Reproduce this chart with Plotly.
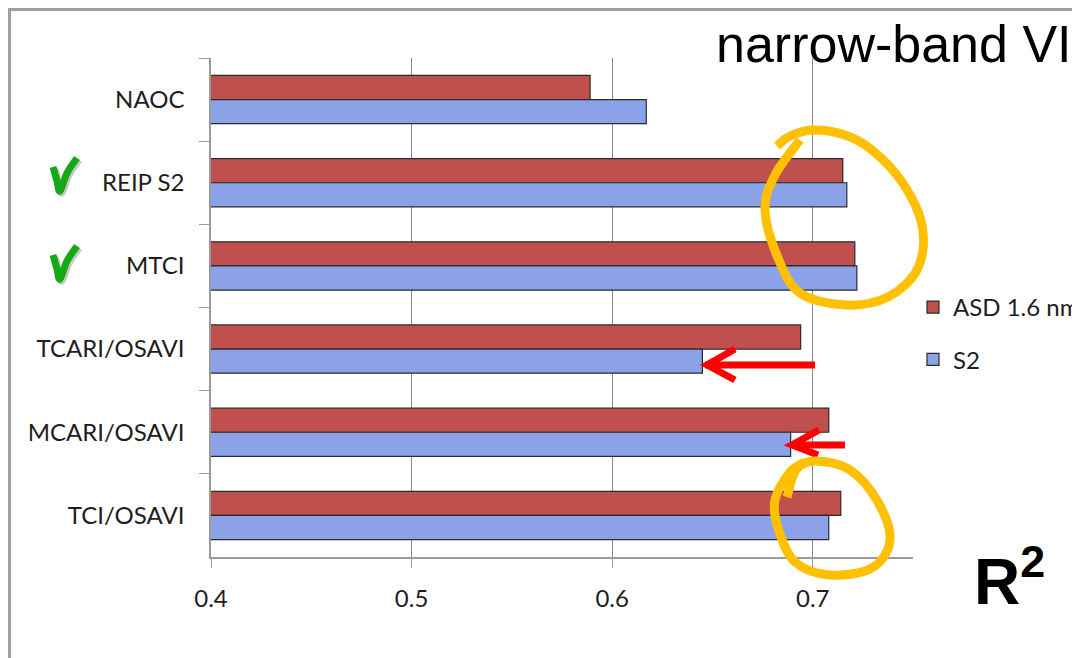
import plotly.graph_objects as go

# R2 per vegetation index
indices = ["NAOC", "REIP S2", "MTCI", "TCARI/OSAVI", "MCARI/OSAVI", "TCI/OSAVI"]
asd_r2 = [0.589, 0.715, 0.721, 0.694, 0.708, 0.714]
s2_r2 = [0.617, 0.717, 0.722, 0.645, 0.689, 0.708]
series_names = ["ASD 1.6 nm", "S2"]
x_ticks = [0.4, 0.5, 0.6, 0.7]

# page has an 8px body margin, so the figure is drawn 8px in from the corner
OFF = 8
W, H = 1080 - OFF, 658 - OFF
ML, MR, MT, MB = 211 - OFF, 167, 58 - OFF, 101
PW, PH = W - ML - MR, H - MT - MB


def pp(x, y):
    # page pixel -> paper coords
    x, y = x - OFF, y - OFF
    return ((x - ML) / PW, (H - MB - y) / PH)


def line_path(pts):
    p = [pp(*q) for q in pts]
    return "M " + " L ".join(f"{a:.4f},{b:.4f}" for a, b in p)


def smooth_path(pts):
    p = [pp(*q) for q in pts]
    s = f"M {p[0][0]:.4f},{p[0][1]:.4f}"
    for i in range(len(p) - 1):
        p0 = p[i - 1] if i > 0 else p[i]
        p1, p2 = p[i], p[i + 1]
        p3 = p[i + 2] if i + 2 < len(p) else p2
        c1 = (p1[0] + (p2[0] - p0[0]) / 6, p1[1] + (p2[1] - p0[1]) / 6)
        c2 = (p2[0] - (p3[0] - p1[0]) / 6, p2[1] - (p3[1] - p1[1]) / 6)
        s += f" C {c1[0]:.4f},{c1[1]:.4f} {c2[0]:.4f},{c2[1]:.4f} {p2[0]:.4f},{p2[1]:.4f}"
    return s


fig = go.Figure()
fig.add_trace(go.Bar(y=indices, x=asd_r2, name=series_names[0], orientation="h",
                     marker=dict(color="#C0504D", line=dict(color="#2a2a2a", width=1.2)),
                     legendgroup="a"))
fig.add_trace(go.Bar(y=indices, x=s2_r2, name=series_names[1], orientation="h",
                     marker=dict(color="#8BA2E8", line=dict(color="#2a2a2a", width=1.2)),
                     legendgroup="b"))

shapes = []
# slide frame (drawn at the figure's own edge)
shapes.append(dict(type="path", xref="paper", yref="paper",
                   path=line_path([(9.5, 660), (9.5, 9.5), (1082, 9.5)]),
                   line=dict(color="#a0a0a0", width=3)))

# check marks
for cy in (175, 263):
    pts = [(53, cy - 8), (57, cy + 6), (60, cy + 16), (67, cy - 2), (77, cy - 17)]
    shapes.append(dict(type="path", xref="paper", yref="paper",
                       path=smooth_path([(x + 2, y + 2) for x, y in pts]),
                       line=dict(color="rgba(0,0,0,0.22)", width=7)))
    shapes.append(dict(type="path", xref="paper", yref="paper",
                       path=smooth_path(pts), line=dict(color="#14A814", width=7)))

# red arrows
for pts in ([(815, 365), (705, 365)], [(735, 349), (707, 365), (735, 380)],
            [(845, 445), (792, 445)], [(819, 430), (792, 445), (818, 455)]):
    shapes.append(dict(type="path", xref="paper", yref="paper",
                       path=line_path(pts), line=dict(color="#FF0000", width=7)))

# hand drawn circles
circle1 = [(777, 146), (790, 136), (813, 130), (845, 135), (872, 150), (902, 182), (922, 225),
           (918, 268), (888, 297), (845, 305), (800, 293), (778, 258), (765, 210), (775, 175),
           (800, 140)]
circle2 = [(787, 497), (796, 470), (815, 461), (850, 470), (878, 502), (890, 540), (872, 568),
           (830, 575), (795, 562), (778, 528), (775, 500), (790, 472), (805, 462)]
for c in (circle1, circle2):
    shapes.append(dict(type="path", xref="paper", yref="paper",
                       path=smooth_path(c), line=dict(color="#FFC000", width=9)))

nx, ny = pp(1074, 44)
rx, ry = pp(972, 620)
annotations = [
    dict(text="narrow-band VI", xref="paper", yref="paper", x=nx, y=ny, xanchor="right",
         yanchor="middle", showarrow=False,
         font=dict(family="Liberation Sans, Arial", size=52, color="#000")),
    dict(text="<b>R<sup>2</sup></b>", xref="paper", yref="paper", x=rx, y=ry, xanchor="left",
         yanchor="bottom", showarrow=False,
         font=dict(family="Liberation Sans, Arial", size=64, color="#000")),
]

lx, ly = pp(913, 285)
fig.update_layout(
    width=W, height=H,
    margin=dict(l=ML, r=MR, t=MT, b=MB, autoexpand=False),
    paper_bgcolor="white", plot_bgcolor="white",
    barmode="group", bargap=0.42, bargroupgap=0,
    font=dict(family="Lato, sans-serif", size=24, color="#1e1e1e"),
    showlegend=True,
    legend=dict(x=lx, y=ly, xanchor="left", yanchor="top", tracegroupgap=18,
                traceorder="grouped", font=dict(size=24), bgcolor="rgba(0,0,0,0)"),
    xaxis=dict(range=[0.4, 0.75], tickvals=x_ticks, ticktext=[str(v) for v in x_ticks],
               showgrid=True, gridcolor="#8a8a8a", gridwidth=1, zeroline=False,
               showline=True, linecolor="#9a9a9a", linewidth=1.5,
               ticks="outside", ticklen=9, tickcolor="#9a9a9a", ticklabelstandoff=10),
    yaxis=dict(categoryorder="array", categoryarray=indices, autorange="reversed",
               showline=True, linecolor="#9a9a9a", linewidth=1.5, showgrid=False,
               ticks="outside", ticklen=10, tickcolor="#9a9a9a", tickson="boundaries",
               ticklabelstandoff=20),
    shapes=shapes,
    annotations=annotations,
)

fig.write_html("out.html")
